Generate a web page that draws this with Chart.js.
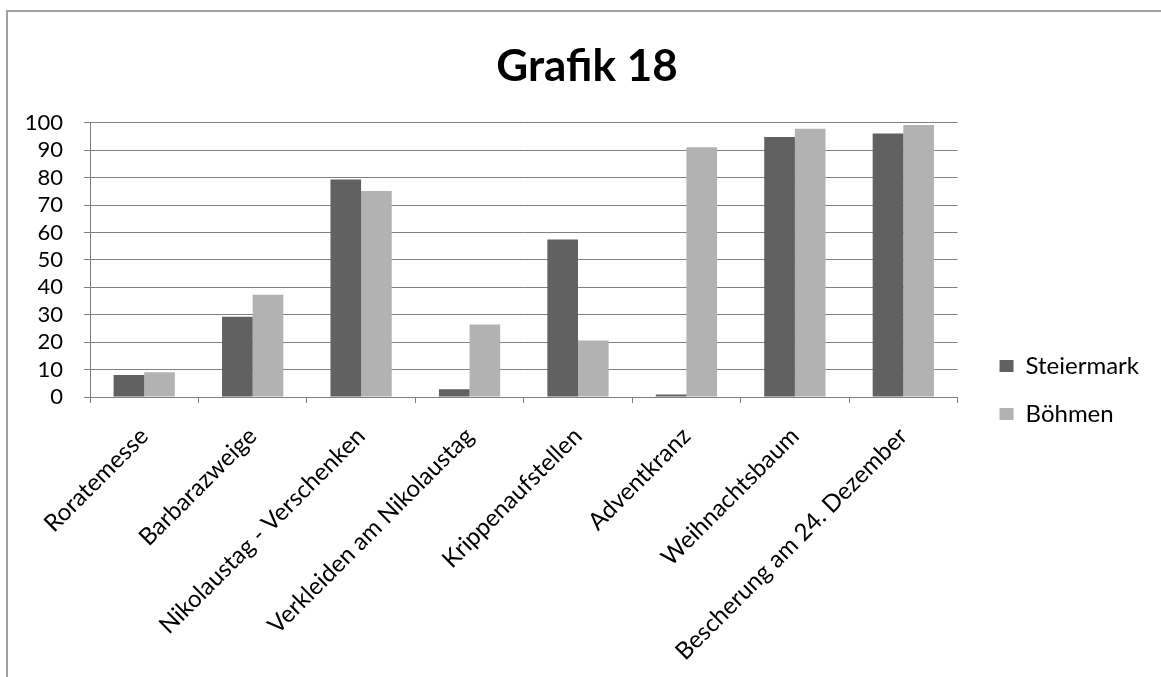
<!DOCTYPE html>
<html>
<head>
<meta charset="utf-8">
<script src="https://cdn.jsdelivr.net/npm/chart.js@4.4.1/dist/chart.umd.min.js"></script>
<style>
  html, body { margin: 0; padding: 0; background: #fff; }
  #frame {
    position: absolute; left: 6px; top: 10px; right: -10px; bottom: -10px;
    border-left: 2px solid #a0a0a0; border-top: 2px solid #a0a0a0;
  }
  #wrap { position: absolute; left: 0; top: 0; width: 1161px; height: 677px; }
</style>
</head>
<body>
<div id="frame"></div>
<div id="wrap"><canvas id="chart"></canvas></div>
<script>
const categories = [
  "Roratemesse",
  "Barbarazweige",
  "Nikolaustag - Verschenken",
  "Verkleiden am Nikolaustag",
  "Krippenaufstellen",
  "Adventkranz",
  "Weihnachtsbaum",
  "Bescherung am 24. Dezember",
];
const steiermark = [8, 29.3, 79.3, 2.8, 57.4, 0.9, 94.8, 96.1];
const boehmen = [9, 37.3, 75.1, 26.4, 20.6, 91.1, 97.8, 99.2];
const seriesNames = ["Steiermark", "Böhmen"];

const gridColor = "#808080";
Chart.defaults.font.family = "Lato";
Chart.defaults.color = "#000";

const ctx = document.getElementById("chart").getContext("2d");
new Chart(ctx, {
  type: "bar",
  data: {
    labels: categories,
    datasets: [
      {
        label: seriesNames[0],
        data: steiermark,
        backgroundColor: "#616161",
        borderWidth: 0,
      },
      {
        label: seriesNames[1],
        data: boehmen,
        backgroundColor: "#b2b2b2",
        borderWidth: 0,
      },
    ],
  },
  options: {
    responsive: true,
    maintainAspectRatio: false,
    animation: false,
    categoryPercentage: 0.565,
    barPercentage: 1,
    layout: { padding: { left: 25, right: 12, top: 10, bottom: 10 } },
    plugins: {
      tooltip: { enabled: false },
      title: {
        display: true,
        text: "Grafik 18",
        font: { size: 44, weight: "bold" },
        padding: { top: 30, bottom: 30 },
      },
      legend: {
        position: "right",
        maxWidth: 175,
        title: { display: true, text: " ", font: { size: 10 }, padding: { top: 0, bottom: 91 } },
        labels: { font: { size: 24 }, boxWidth: 14, boxHeight: 12, padding: 24 },
      },
    },
    scales: {
      x: {
        grid: { drawOnChartArea: false, drawTicks: true, tickLength: 6, color: gridColor },
        border: { color: gridColor, width: 1 },
        ticks: { font: { size: 24 }, minRotation: 45, maxRotation: 45, autoSkip: false, padding: 19 },
        // fixed axis band so the plot bottom sits where the original has it
        afterFit: (scale) => {
          scale.paddingLeft = 0;
          scale.height = 270;
        },
      },
      y: {
        min: 0,
        max: 100,
        grid: { color: gridColor, tickLength: 6 },
        border: { color: gridColor, width: 1 },
        ticks: { stepSize: 10, autoSkip: false, font: { size: 22 }, padding: 21 },
        afterFit: (scale) => { scale.width = 65; },
      },
      yPad: {
        type: "linear",
        position: "right",
        grid: { display: false },
        border: { display: false },
        ticks: { display: false },
        afterFit: (scale) => { scale.width = 18; },
      },
    },
  },
});
</script>
</body>
</html>
